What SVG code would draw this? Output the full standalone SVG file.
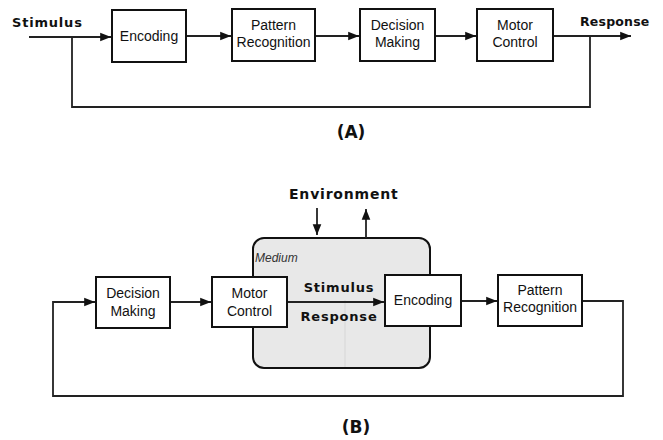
<svg xmlns="http://www.w3.org/2000/svg" width="663" height="440" viewBox="0 0 663 440">
<defs>
<marker id="ah" viewBox="0 0 10 10" refX="10" refY="5" markerWidth="6" markerHeight="6" markerUnits="strokeWidth" orient="auto">
<path d="M0,1 L10,5 L0,9 Z" fill="#111"/>
</marker>
<style>
.box{fill:#fff;stroke:#111;stroke-width:2}
.ln{fill:none;stroke:#222;stroke-width:1.8}
.t{font-family:"Liberation Sans","DejaVu Sans",sans-serif;font-size:14px;fill:#111;text-anchor:middle}
.b{font-family:"DejaVu Sans","Liberation Sans",sans-serif;font-size:13px;font-weight:bold;fill:#111;letter-spacing:0.8px}
.lab{font-family:"DejaVu Sans","Liberation Sans",sans-serif;font-size:17px;font-weight:bold;fill:#111;text-anchor:middle}
</style>
</defs>
<rect width="663" height="440" fill="#fff"/>

<!-- Panel A connectors -->
<g id="connectorsA">
<line class="ln" x1="29" y1="37" x2="111" y2="37" marker-end="url(#ah)"/>
<line class="ln" x1="186" y1="36" x2="231" y2="36" marker-end="url(#ah)"/>
<line class="ln" x1="315" y1="36" x2="359" y2="36" marker-end="url(#ah)"/>
<line class="ln" x1="435" y1="36" x2="476" y2="36" marker-end="url(#ah)"/>
<line class="ln" x1="553" y1="36" x2="631" y2="36" marker-end="url(#ah)"/>
<polyline class="ln" points="590,36 590,107 72,107 72,37"/>
</g>
<text class="b" x="12" y="27">Stimulus</text>
<text class="b" x="580" y="26" style="letter-spacing:0.2px;font-size:12.5px">Response</text>

<g id="encA"><rect class="box" x="112" y="10" width="74" height="52"/><text class="t" x="149" y="41">Encoding</text></g>
<g id="patA"><rect class="box" x="232" y="9" width="83" height="52"/><text class="t" x="273.5" y="30">Pattern</text><text class="t" x="273.5" y="47">Recognition</text></g>
<g id="decA"><rect class="box" x="360" y="9" width="75" height="52"/><text class="t" x="397.5" y="30">Decision</text><text class="t" x="397.5" y="47">Making</text></g>
<g id="motA"><rect class="box" x="477" y="9" width="76" height="52"/><text class="t" x="515" y="30">Motor</text><text class="t" x="515" y="47">Control</text></g>
<text class="lab" x="351" y="138">(A)</text>

<!-- Panel B -->
<g id="medium">
<rect x="253" y="238" width="177" height="130" rx="11" fill="#e8e8e8" stroke="#111" stroke-width="2"/>
<line x1="345" y1="300" x2="345" y2="367" stroke="#d6d6d6" stroke-width="1"/>
<text x="255" y="262" font-family="'Liberation Sans','DejaVu Sans',sans-serif" font-size="12" font-style="italic" fill="#333">Medium</text>
</g>
<text class="b" x="289" y="199" style="font-size:14px">Environment</text>

<g id="connectorsB">
<line class="ln" x1="317" y1="208" x2="317" y2="235" marker-end="url(#ah)"/>
<line class="ln" x1="366" y1="238" x2="366" y2="209" marker-end="url(#ah)"/>
<line class="ln" x1="170" y1="302" x2="211" y2="302" marker-end="url(#ah)"/>
<line class="ln" x1="287" y1="302" x2="384" y2="302" marker-end="url(#ah)"/>
<line class="ln" x1="461" y1="301" x2="497" y2="301" marker-end="url(#ah)"/>
<polyline class="ln" points="582,301 623,301 623,396 53,396 53,302 95,302" marker-end="url(#ah)"/>
</g>

<text class="b" x="339" y="292" text-anchor="middle" fill="#333">Stimulus</text>
<text class="b" x="339" y="321" text-anchor="middle" fill="#333">Response</text>

<g id="decB"><rect class="box" x="96" y="277" width="74" height="51"/><text class="t" x="133" y="298">Decision</text><text class="t" x="133" y="316">Making</text></g>
<g id="motB"><rect class="box" x="212" y="277" width="75" height="50"/><text class="t" x="249.5" y="298">Motor</text><text class="t" x="249.5" y="316">Control</text></g>
<g id="encB"><rect class="box" x="385" y="275" width="76" height="51"/><text class="t" x="423" y="305">Encoding</text></g>
<g id="patB"><rect class="box" x="498" y="275" width="84" height="51"/><text class="t" x="540" y="295">Pattern</text><text class="t" x="540" y="312">Recognition</text></g>
<text class="lab" x="356" y="433">(B)</text>
</svg>
